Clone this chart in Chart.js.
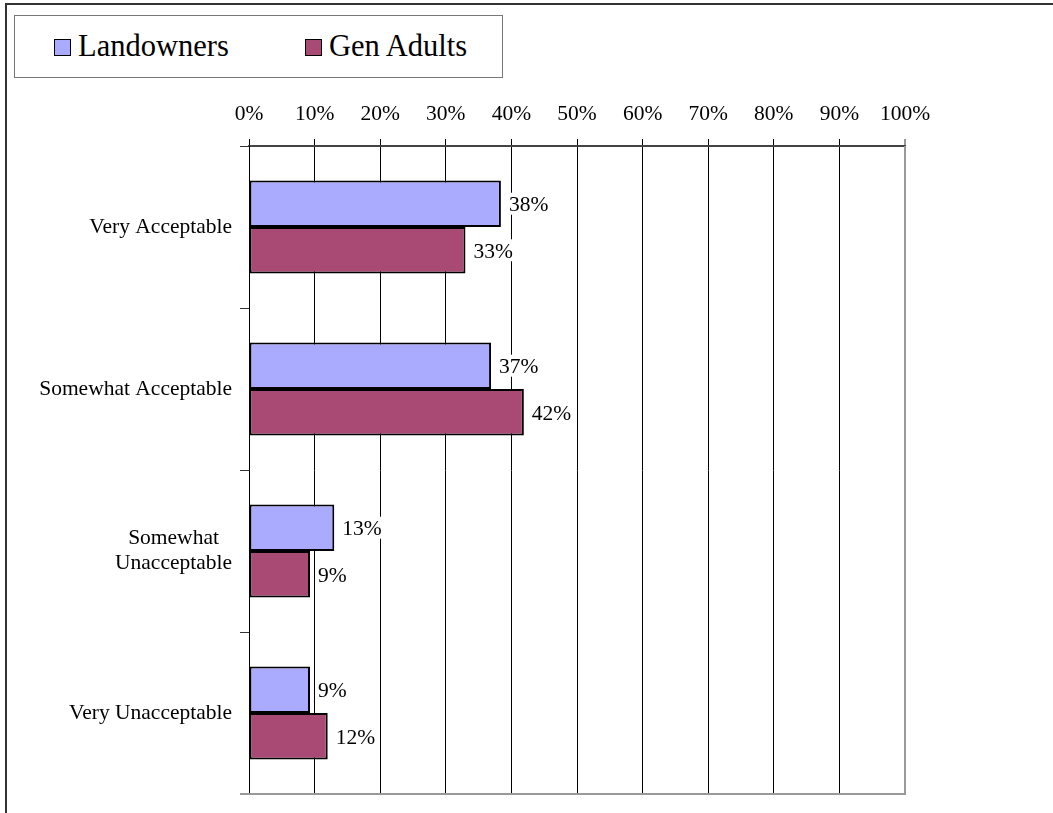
<!DOCTYPE html>
<html>
<head>
<meta charset="utf-8">
<script src="https://cdn.jsdelivr.net/npm/chart.js@4"></script>
<style>
    body { margin: 0; background: #fff; }
    #wrap { position: relative; width: 1053px; height: 813px; overflow: hidden; }
    #frame {
        position: absolute; left: 5px; top: 3px; width: 1200px; height: 1000px;
        border-left: 2px solid #333; border-top: 2px solid #333;
    }
    #chart { position: absolute; left: 0; top: 0; }
    #legend {
        position: absolute; left: 14px; top: 15px; width: 487px; height: 61px;
        border: 1px solid #777; background: #fff;
        font-family: 'Liberation Serif', 'Times New Roman', serif; font-size: 30.5px;
    }
    .item { position: absolute; top: 0; height: 61px; line-height: 61px; white-space: nowrap; }
    .swatch {
        display: inline-block; width: 15px; height: 15px; border: 1.5px solid #000;
        vertical-align: middle; margin-right: 7px; position: relative; top: -2px;
    }
</style>
</head>
<body>
<div id="wrap">
    <div id="frame"></div>
    <canvas id="chart" width="1053" height="813"></canvas>
    <div id="legend"></div>
</div>
<script>
// Chart data
const categories = [['Very Acceptable'], ['Somewhat Acceptable'], ['Somewhat', 'Unacceptable'], ['Very Unacceptable']];
const seriesNames = ['Landowners', 'Gen Adults'];
const landowners = [38.4, 36.9, 13, 9.3];
const genAdults = [33, 41.9, 9.3, 12];
const xTicks = [0, 10, 20, 30, 40, 50, 60, 70, 80, 90, 100];

const colors = {
    landowners: '#AAAAFF',
    genAdults: '#A94A74',
    border: '#000000'
};
const serif = "'Liberation Serif', 'Times New Roman', serif";
const fontSize = 21.5;

// Legend (boxed, like the original)
const legendEl = document.getElementById('legend');
const legendLeft = [39, 290];
[colors.landowners, colors.genAdults].forEach((c, i) => {
    const item = document.createElement('div');
    item.className = 'item';
    item.style.left = legendLeft[i] + 'px';
    item.innerHTML = `<span class="swatch" style="background:${c}"></span>${seriesNames[i]}`;
    legendEl.appendChild(item);
});

// Category labels: block right aligned, lines centred to each other
const categoryLabels = {
    id: 'categoryLabels',
    afterDraw(chart) {
        const ctx = chart.ctx;
        const yScale = chart.scales.y;
        const right = chart.chartArea.left - 17;
        const lineH = 25;
        ctx.save();
        ctx.font = fontSize + 'px ' + serif;
        ctx.fillStyle = '#000';
        ctx.textAlign = 'center';
        ctx.textBaseline = 'middle';
        categories.forEach((lines, i) => {
            const y = yScale.getPixelForTick(i);
            const w = Math.max(...lines.map(l => ctx.measureText(l).width));
            const cx = right - w / 2;
            const top = y - (lines.length - 1) * lineH / 2;
            lines.forEach((l, j) => ctx.fillText(l, cx, top + j * lineH));
        });
        ctx.restore();
    }
};

// Value labels with white background at bar ends
const valueLabels = {
    id: 'valueLabels',
    afterDatasetsDraw(chart) {
        const ctx = chart.ctx;
        ctx.save();
        ctx.font = fontSize + 'px ' + serif;
        ctx.textBaseline = 'middle';
        ctx.textAlign = 'left';
        chart.data.datasets.forEach((ds, di) => {
            chart.getDatasetMeta(di).data.forEach((bar, i) => {
                const text = Math.round(ds.data[i]) + '%';
                const x = bar.x + 8;
                const w = ctx.measureText(text).width;
                ctx.fillStyle = '#fff';
                ctx.fillRect(x - 1, bar.y - 11, w + 2, 22);
                ctx.fillStyle = '#000';
                ctx.fillText(text, x, bar.y + 2);
            });
        });
        ctx.restore();
    }
};

// Gray right/bottom frame of the plot area
const plotFrame = {
    id: 'plotFrame',
    afterDraw(chart) {
        const a = chart.chartArea;
        const ctx = chart.ctx;
        ctx.save();
        ctx.strokeStyle = '#999';
        ctx.lineWidth = 2;
        ctx.beginPath();
        ctx.moveTo(a.left - 9, a.bottom);
        ctx.lineTo(a.right, a.bottom);
        ctx.lineTo(a.right, a.top);
        ctx.stroke();
        ctx.restore();
    }
};

new Chart(document.getElementById('chart'), {
    type: 'bar',
    data: {
        labels: categories.map(c => c.join(' ')),
        datasets: [
            {
                label: seriesNames[0],
                data: landowners,
                backgroundColor: colors.landowners,
                borderColor: colors.border,
                borderWidth: 2,
                borderSkipped: false
            },
            {
                label: seriesNames[1],
                data: genAdults,
                backgroundColor: colors.genAdults,
                borderColor: colors.border,
                borderWidth: 2,
                borderSkipped: false
            }
        ]
    },
    options: {
        indexAxis: 'y',
        responsive: false,
        animation: false,
        barPercentage: 1,
        categoryPercentage: 0.575,
        layout: { padding: { left: 0, top: 0, right: 148, bottom: 19 } },
        plugins: {
            legend: { display: false },
            tooltip: { enabled: false }
        },
        scales: {
            x: {
                type: 'linear',
                position: 'top',
                min: 0,
                max: 100,
                afterFit: s => { s.height = 146; },
                afterBuildTicks: s => { s.ticks = xTicks.map(v => ({ value: v })); },
                ticks: {
                    callback: v => v + '%',
                    font: { family: serif, size: fontSize },
                    color: '#000',
                    padding: 12,
                    maxRotation: 0
                },
                grid: {
                    color: c => c.index === 10 ? '#999' : '#000',
                    lineWidth: c => c.index === 10 ? 2 : 1,
                    tickLength: 7,
                    tickColor: c => c.index === 10 ? '#999' : '#000'
                },
                border: { color: '#444', width: 2 }
            },
            y: {
                type: 'category',
                afterFit: s => { s.width = 249; },
                ticks: { display: false },
                grid: {
                    offset: true,
                    drawOnChartArea: false,
                    tickLength: 9,
                    color: '#333'
                },
                border: { color: '#000', width: 1 }
            }
        }
    },
    plugins: [categoryLabels, valueLabels, plotFrame]
});
</script>
</body>
</html>
